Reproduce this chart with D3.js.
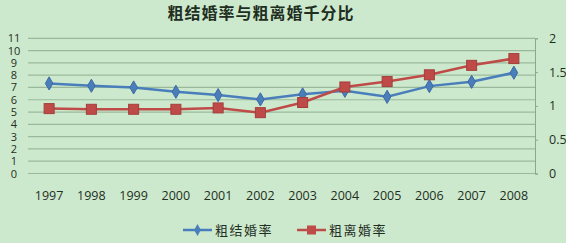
<!DOCTYPE html>
<html>
<head>
  <meta charset="utf-8">
  <script src="https://d3js.org/d3.v7.min.js"></script>
  <style>
    body { margin: 0; background: #cde9cd; }
    text { font-family: "Open Sans", "Noto Sans CJK SC", sans-serif; fill: #1f2f1f; }
  </style>
</head>
<body>
<script>
  // chart data
  var years = ["1997","1998","1999","2000","2001","2002","2003","2004","2005","2006","2007","2008"];
  var marriage = [7.33, 7.14, 7.0, 6.65, 6.38, 6.03, 6.44, 6.73, 6.24, 7.11, 7.46, 8.2];
  var divorce = [0.96, 0.95, 0.95, 0.95, 0.97, 0.90, 1.05, 1.28, 1.36, 1.46, 1.60, 1.70];
  var leftTicks = d3.range(0, 12);
  var rightTicks = [0, 0.5, 1, 1.5, 2];
  var titleText = "粗结婚率与粗离婚千分比";
  var seriesNames = ["粗结婚率", "粗离婚率"];

  var width = 566, height = 243;
  var blue = "#4a7ebb", red = "#be4b48";

  var svg = d3.select("body").append("svg")
      .attr("width", width).attr("height", height);

  svg.append("rect").attr("width", width).attr("height", height).attr("fill", "#cde9cd");

  var x = d3.scaleBand().domain(years).range([28, 535]);
  var yL = d3.scaleLinear().domain([0, 11]).range([173.5, 38.3]);
  var yR = d3.scaleLinear().domain([0, 2]).range([173.5, 38.3]);

  // title
  svg.append("text")
      .attr("x", 261).attr("y", 19)
      .attr("text-anchor", "middle")
      .style("font-family", "'Noto Sans CJK SC', sans-serif")
      .style("font-size", "16px")
      .style("font-weight", "bold")
      .style("letter-spacing", "1px")
      .text(titleText);

  // gridlines
  svg.append("g").selectAll("line")
      .data(leftTicks).enter().append("line")
      .attr("x1", 28).attr("x2", 535)
      .attr("y1", function (d) { return yL(d); })
      .attr("y2", function (d) { return yL(d); })
      .attr("stroke", "#9ab99a").attr("stroke-width", 1.2);

  // left axis labels (tightly packed like the original)
  svg.append("g").selectAll("text")
      .data(leftTicks).enter().append("text")
      .attr("x", 14).attr("y", function (d) { return yL(d) + 4; })
      .attr("text-anchor", "middle")
      .style("font-size", "11px")
      .text(function (d) { return d; });

  // right axis
  var gR = svg.append("g").attr("transform", "translate(535,0)");
  var axisR = d3.axisRight(yR).tickValues(rightTicks).tickSize(3).tickPadding(11)
      .tickFormat(function (d) { return d; });
  gR.call(axisR);
  gR.select(".domain").attr("stroke", "#8aa88a");
  gR.selectAll(".tick line").attr("stroke", "#8aa88a");
  gR.selectAll(".tick text").style("font-size", "12.5px").attr("fill", "#1f2f1f")
      .style("font-family", "'Open Sans', sans-serif");

  // x labels
  svg.append("g").selectAll("text")
      .data(years).enter().append("text")
      .attr("x", function (d) { return x(d) + x.bandwidth() / 2; })
      .attr("y", 200)
      .attr("text-anchor", "middle")
      .style("font-size", "12.5px")
      .text(function (d) { return d; });

  var cx = function (d, i) { return x(years[i]) + x.bandwidth() / 2; };

  // marriage line (left axis)
  svg.append("path")
      .datum(marriage)
      .attr("fill", "none").attr("stroke", blue).attr("stroke-width", 2.5)
      .attr("d", d3.line().x(cx).y(function (d) { return yL(d); }));

  // divorce line (right axis)
  svg.append("path")
      .datum(divorce)
      .attr("fill", "none").attr("stroke", red).attr("stroke-width", 2.5)
      .attr("d", d3.line().x(cx).y(function (d) { return yR(d); }));

  svg.append("g").selectAll("path")
      .data(marriage).enter().append("path")
      .attr("d", d3.symbol().type(d3.symbolDiamond).size(50))
      .attr("transform", function (d, i) { return "translate(" + cx(d, i) + "," + yL(d) + ")"; })
      .attr("fill", blue).attr("stroke", "#3c6aa5");

  svg.append("g").selectAll("rect")
      .data(divorce).enter().append("rect")
      .attr("x", function (d, i) { return cx(d, i) - 5; })
      .attr("y", function (d) { return yR(d) - 5; })
      .attr("width", 10).attr("height", 10)
      .attr("fill", red).attr("stroke", "#a43e3b");

  // legend
  var legend = svg.append("g");
  var lx = [183, 297];
  seriesNames.forEach(function (name, i) {
    var c = i === 0 ? blue : red;
    legend.append("line")
        .attr("x1", lx[i]).attr("x2", lx[i] + 29)
        .attr("y1", 230).attr("y2", 230)
        .attr("stroke", c).attr("stroke-width", 2.5);
    if (i === 0) {
      legend.append("path")
          .attr("d", d3.symbol().type(d3.symbolDiamond).size(40))
          .attr("transform", "translate(" + (lx[i] + 14.5) + ",230)")
          .attr("fill", c);
    } else {
      legend.append("rect")
          .attr("x", lx[i] + 10).attr("y", 225.5).attr("width", 9).attr("height", 9)
          .attr("fill", c);
    }
    legend.append("text")
        .attr("x", lx[i] + 32).attr("y", 235)
        .style("font-family", "'Noto Sans CJK SC', sans-serif")
        .style("font-size", "13px")
        .style("letter-spacing", "1.5px")
        .attr("fill", "#3a4a3a")
        .text(name);
  });
</script>
</body>
</html>
